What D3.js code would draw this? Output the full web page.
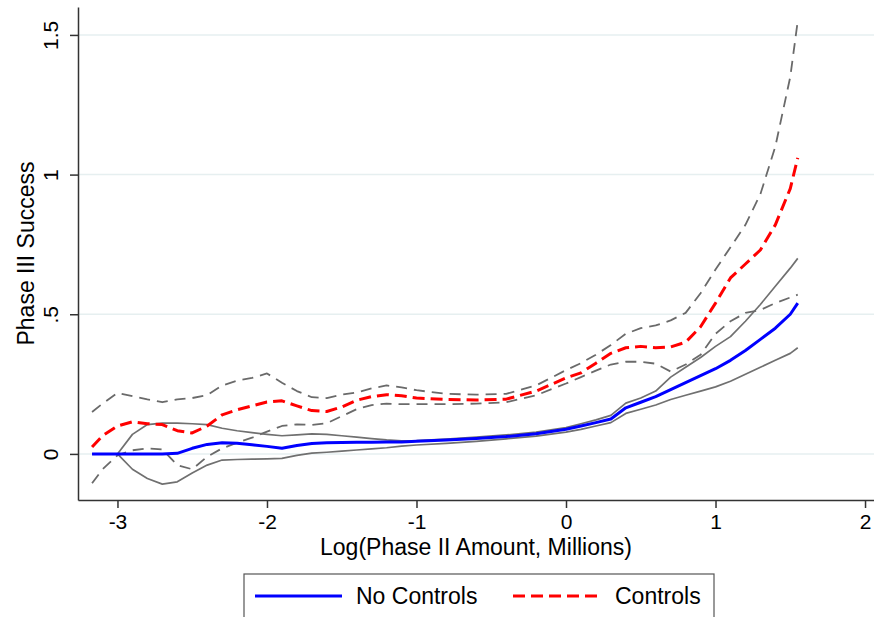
<!DOCTYPE html>
<html>
<head>
<meta charset="utf-8">
<script src="https://cdn.jsdelivr.net/npm/d3@7"></script>
<style>
  body { margin: 0; background: #fff; }
  svg { font-family: "Liberation Sans", Arial, sans-serif; }
</style>
</head>
<body>
<div id="chart"></div>
<script>
// x grid (log phase II amount) shared by all series
const xs = [-3.17, -3.1, -3.0, -2.9, -2.8, -2.7, -2.6, -2.5, -2.4, -2.3, -2.2, -2.1, -2.0,
  -1.9, -1.8, -1.7, -1.6, -1.5, -1.4, -1.3, -1.2, -1.1, -1.0, -0.8, -0.6, -0.4, -0.2, 0,
  0.1, 0.2, 0.3, 0.4, 0.5, 0.6, 0.7, 0.8, 0.9, 1.0, 1.1, 1.2, 1.3, 1.4, 1.5, 1.55];

// No Controls estimate and its band
const noCtrl = [0, 0, 0, 0, 0, 0, 0.002, 0.02, 0.034, 0.04, 0.038, 0.033, 0.027,
  0.02, 0.03, 0.037, 0.04, 0.041, 0.042, 0.042, 0.043, 0.043, 0.045, 0.05, 0.055, 0.062, 0.072, 0.088,
  0.1, 0.112, 0.125, 0.165, 0.185, 0.205, 0.23, 0.255, 0.28, 0.305, 0.335, 0.37, 0.41, 0.45, 0.5, 0.54];
const noCtrlHi = [0, 0, 0, 0.07, 0.105, 0.11, 0.11, 0.108, 0.105, 0.092, 0.083, 0.076, 0.07,
  0.065, 0.068, 0.072, 0.07, 0.065, 0.06, 0.055, 0.05, 0.047, 0.048, 0.053, 0.06, 0.068, 0.078, 0.094,
  0.108, 0.122, 0.138, 0.182, 0.2, 0.225, 0.275, 0.31, 0.345, 0.385, 0.42, 0.475, 0.535, 0.6, 0.665, 0.70];
const noCtrlLo = [0, 0, 0, -0.055, -0.088, -0.108, -0.1, -0.068, -0.04, -0.022, -0.02, -0.019, -0.018,
  -0.016, -0.005, 0.003, 0.006, 0.01, 0.014, 0.018, 0.022, 0.028, 0.032, 0.038, 0.045, 0.054, 0.064, 0.078,
  0.088, 0.1, 0.112, 0.145, 0.16, 0.175, 0.195, 0.21, 0.225, 0.24, 0.26, 0.285, 0.31, 0.335, 0.36, 0.38];

// Controls estimate and its band
const ctrl = [0.025, 0.065, 0.1, 0.115, 0.108, 0.105, 0.083, 0.075, 0.1, 0.14, 0.158, 0.172, 0.186,
  0.19, 0.172, 0.155, 0.152, 0.168, 0.192, 0.205, 0.212, 0.208, 0.2, 0.195, 0.193, 0.196, 0.225, 0.272,
  0.29, 0.325, 0.36, 0.38, 0.385, 0.38, 0.383, 0.4, 0.455, 0.54, 0.63, 0.68, 0.73, 0.82, 0.95, 1.06];
const ctrlHi = [0.15, 0.18, 0.218, 0.207, 0.195, 0.185, 0.195, 0.2, 0.21, 0.245, 0.262, 0.272, 0.288,
  0.255, 0.225, 0.203, 0.2, 0.212, 0.22, 0.235, 0.245, 0.238, 0.228, 0.215, 0.212, 0.215, 0.245, 0.3,
  0.325, 0.355, 0.39, 0.43, 0.45, 0.46, 0.478, 0.505, 0.575, 0.66, 0.74, 0.82, 0.93, 1.1, 1.35, 1.55];
const ctrlLo = [-0.105, -0.055, -0.005, 0.013, 0.02, 0.016, -0.04, -0.055, -0.01, 0.02, 0.04, 0.058, 0.08,
  0.1, 0.106, 0.104, 0.11, 0.135, 0.16, 0.175, 0.18, 0.178, 0.178, 0.178, 0.18, 0.185, 0.21, 0.252,
  0.275, 0.298, 0.32, 0.33, 0.33, 0.323, 0.295, 0.32, 0.355, 0.43, 0.475, 0.505, 0.515, 0.54, 0.56, 0.57];

const xTicks = [-3, -2, -1, 0, 1, 2];
const xTickLabels = ["-3", "-2", "-1", "0", "1", "2"];
const yTicks = [0, 0.5, 1, 1.5];
const yTickLabels = ["0", ".5", "1", "1.5"];

const width = 874, height = 617;
const plot = {left: 78, right: 874, top: 7, bottom: 500};

const svg = d3.select("#chart").append("svg")
    .attr("width", width)
    .attr("height", height);

const x = d3.scaleLinear().domain([-3.264, 2.06]).range([plot.left, plot.right]);
const y = d3.scaleLinear().domain([-0.165, 1.60]).range([plot.bottom, plot.top]);

// gridlines
svg.append("g")
  .selectAll("line")
  .data(yTicks)
  .join("line")
    .attr("x1", plot.left).attr("x2", plot.right)
    .attr("y1", d => y(d)).attr("y2", d => y(d))
    .attr("stroke", "#e6eff0")
    .attr("stroke-width", 1.5);

// lines
const line = vals => d3.line()
    .x((d, i) => x(xs[i]))
    .y(d => y(d))(vals);

const series = [
  {v: noCtrlHi, color: "#707070", w: 1.7, dash: null},
  {v: noCtrlLo, color: "#707070", w: 1.7, dash: null},
  {v: ctrlHi, color: "#6a6a6a", w: 1.8, dash: "11,7"},
  {v: ctrlLo, color: "#6a6a6a", w: 1.8, dash: "11,7"},
  {v: ctrl, color: "#ff0000", w: 3, dash: "12,6"},
  {v: noCtrl, color: "#0000ff", w: 3, dash: null}
];

svg.append("g")
  .selectAll("path")
  .data(series)
  .join("path")
    .attr("fill", "none")
    .attr("stroke", d => d.color)
    .attr("stroke-width", d => d.w)
    .attr("stroke-dasharray", d => d.dash)
    .attr("stroke-linejoin", "round")
    .attr("d", d => line(d.v));

// y axis
const yAxis = svg.append("g")
    .attr("transform", `translate(${plot.left},0)`)
    .call(d3.axisLeft(y).tickValues(yTicks).tickSize(8).tickSizeOuter(0)
      .tickFormat((d, i) => yTickLabels[i]));
yAxis.selectAll("text")
    .attr("transform", "rotate(-90)")
    .attr("x", 0)
    .attr("y", -20)
    .attr("dy", 0)
    .attr("text-anchor", "middle")
    .attr("fill", "#000")
    .style("font-size", "21px");

// x axis
const xAxis = svg.append("g")
    .attr("transform", `translate(0,${plot.bottom})`)
    .call(d3.axisBottom(x).tickValues(xTicks).tickSize(8).tickSizeOuter(0)
      .tickFormat((d, i) => xTickLabels[i]));
xAxis.selectAll("text")
    .attr("y", 29)
    .attr("dy", 0)
    .attr("fill", "#000")
    .style("font-size", "21px");

svg.selectAll(".domain, .tick line")
    .attr("stroke", "#333")
    .attr("stroke-width", 1.5);

// axis titles
svg.append("text")
    .attr("transform", `translate(34,${(plot.top + plot.bottom) / 2}) rotate(-90)`)
    .attr("text-anchor", "middle")
    .style("font-size", "23px")
    .text("Phase III Success");

svg.append("text")
    .attr("x", (plot.left + plot.right) / 2)
    .attr("y", 555)
    .attr("text-anchor", "middle")
    .style("font-size", "23px")
    .text("Log(Phase II Amount, Millions)");

// legend
const legend = svg.append("g");
legend.append("rect")
    .attr("x", 244).attr("y", 574)
    .attr("width", 470).attr("height", 60)
    .attr("fill", "#fff")
    .attr("stroke", "#555")
    .attr("stroke-width", 1.2);

const legendItems = [
  {label: "No Controls", color: "#0000ff", dash: null, x0: 255, tx: 356},
  {label: "Controls", color: "#ff0000", dash: "12,6", x0: 513, tx: 615}
];
legendItems.forEach(d => {
  legend.append("line")
      .attr("x1", d.x0).attr("x2", d.x0 + 87)
      .attr("y1", 596).attr("y2", 596)
      .attr("stroke", d.color)
      .attr("stroke-width", 3)
      .attr("stroke-dasharray", d.dash);
  legend.append("text")
      .attr("x", d.tx).attr("y", 604)
      .style("font-size", "23px")
      .text(d.label);
});
</script>
</body>
</html>
